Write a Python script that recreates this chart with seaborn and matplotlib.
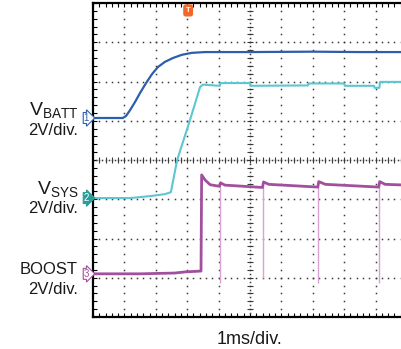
import numpy as np
import pandas as pd
import matplotlib
matplotlib.use("Agg")
import matplotlib.pyplot as plt
import seaborn as sns
from matplotlib.ticker import MultipleLocator

# ---- data (time in ms = screen divisions, level in screen divisions) ----
vbatt_t = [0.0, 0.95, 1.05, 1.18, 1.34, 1.50, 1.69, 1.88, 2.07, 2.29, 2.55, 2.83, 3.15,
           3.57, 5.0, 7.0, 8.5, 10.0]
vbatt_y = [5.07, 5.07, 5.12, 5.27, 5.48, 5.71, 5.96, 6.19, 6.37, 6.50, 6.60, 6.68, 6.73,
           6.75, 6.75, 6.76, 6.75, 6.75]

vsys_t = [0.0, 1.18, 1.82, 2.29, 2.48, 2.68, 3.09, 3.41, 3.50, 4.04, 4.06, 5.0, 5.02,
          6.85, 6.87, 8.0, 8.02, 8.95, 8.97, 9.12, 9.14, 10.0]
vsys_y = [3.03, 3.03, 3.08, 3.13, 3.18, 4.00, 5.02, 5.86, 5.92, 5.89, 5.96, 5.96, 5.89,
          5.90, 5.95, 5.95, 5.89, 5.89, 5.84, 5.84, 5.99, 5.99]

boost_t = [0.0, 1.5, 2.6, 2.95, 3.44, 3.46, 3.57, 3.73, 4.03, 4.06, 4.2, 5.40, 5.43,
           5.6, 7.16, 7.19, 7.4, 9.10, 9.13, 9.3, 10.0]
boost_y = [1.10, 1.10, 1.12, 1.15, 1.17, 3.62, 3.49, 3.37, 3.33, 3.42, 3.36, 3.30, 3.44,
           3.38, 3.31, 3.45, 3.38, 3.31, 3.45, 3.38, 3.36]

spike_t = [4.04, 5.41, 7.17, 9.11]
spike_top = [3.33, 3.30, 3.31, 3.31]
spike_bottom = [0.87, 0.99, 0.87, 0.87]

trigger_t = 3.03
ch_levels = {"1": 5.07, "2": 3.03, "3": 1.10}

BLUE = "#2c5eac"
CYAN = "#5ec6d0"
PURPLE = "#a24f9d"
PINK = "#d9a3d5"
TEAL = "#2a9e9a"

sns.set_theme(style="white")
plt.rcParams["font.family"] = ["Liberation Sans", "DejaVu Sans"]
plt.rcParams["mathtext.fontset"] = "custom"
plt.rcParams["mathtext.rm"] = "Liberation Sans"

W, H = 401, 349
fig = plt.figure(figsize=(W / 100, H / 100), dpi=100)
fig.patch.set_facecolor("white")
ax = fig.add_axes([93 / W, (H - 317) / H, 314 / W, 314 / H])
ax.set_xlim(0, 10)
ax.set_ylim(0, 8)
ax.set_facecolor("none")


def fx(px):
    return px / W


def fy(py):
    return 1 - py / H


# grid dots
dot_c = "#3a3a3a"
for k in range(1, 10):
    if k == 5:
        continue
    ys = np.arange(0, 8.001, 0.2)
    ax.plot([k] * len(ys), ys, ls="none", marker="s", ms=1.1, color=dot_c, mew=0, zorder=1)
for j in range(1, 8):
    if j == 4:
        continue
    xs = np.arange(0, 10.001, 0.2)
    ax.plot(xs, [j] * len(xs), ls="none", marker="s", ms=1.1, color=dot_c, mew=0, zorder=1)

# center crosshair
ys = np.arange(0, 8.001, 0.1)
ax.plot([5] * len(ys), ys, ls="none", marker="s", ms=1.1, color=dot_c, mew=0, zorder=1)
ys2 = np.arange(0, 8.001, 0.2)
ax.plot([5] * len(ys2), ys2, ls="none", marker="_", ms=4, color=dot_c, mew=0.8, zorder=1)
xs = np.arange(0, 10.001, 0.1)
ax.plot(xs, [4] * len(xs), ls="none", marker="s", ms=1.1, color=dot_c, mew=0, zorder=1)
xs2 = np.arange(0, 10.001, 0.2)
ax.plot(xs2, [4] * len(xs2), ls="none", marker="|", ms=4, color=dot_c, mew=0.8, zorder=1)

# traces
df_b = pd.DataFrame({"t": vbatt_t, "v": vbatt_y})
df_s = pd.DataFrame({"t": vsys_t, "v": vsys_y})
df_o = pd.DataFrame({"t": boost_t, "v": boost_y})

ax.vlines(spike_t, spike_bottom, spike_top, color=PINK, lw=1.0, zorder=3)
sns.lineplot(data=df_o, x="t", y="v", ax=ax, sort=False, estimator=None,
             color=PURPLE, lw=2.0, zorder=4)
sns.lineplot(data=df_s, x="t", y="v", ax=ax, sort=False, estimator=None,
             color=CYAN, lw=1.5, zorder=4)
sns.lineplot(data=df_b, x="t", y="v", ax=ax, sort=False, estimator=None,
             color=BLUE, lw=1.6, zorder=5)

# frame and ticks
for s in ax.spines.values():
    s.set_visible(True)
    s.set_color("black")
    s.set_linewidth(1.6)
ax.xaxis.set_major_locator(MultipleLocator(1))
ax.xaxis.set_minor_locator(MultipleLocator(0.2))
ax.yaxis.set_major_locator(MultipleLocator(1))
ax.yaxis.set_minor_locator(MultipleLocator(0.2))
ax.tick_params(which="both", direction="in", length=3, width=0.8, color="black",
               top=True, bottom=True, left=True, right=False,
               labelbottom=False, labelleft=False)
ax.set_xlabel("")
ax.set_ylabel("")

# trigger marker
ax.text(trigger_t, 7.9, "T", ha="center", va="top", fontsize=5.5, color="white",
        fontweight="bold", zorder=6,
        bbox=dict(boxstyle="round,pad=0.25", fc="#f0692a", ec="#f0692a"))
ax.plot([9.98], [4.94], marker="o", ms=6, color=TEAL, clip_on=False, zorder=6)

# channel markers
tr = ax.get_yaxis_transform()
ax.text(-0.021, ch_levels["1"], "1", transform=tr, ha="center", va="center", fontsize=7,
        color=BLUE, zorder=6, bbox=dict(boxstyle="rarrow,pad=0.05", fc="white", ec=BLUE, lw=0.8))
ax.text(-0.021, ch_levels["2"], "2", transform=tr, ha="center", va="center", fontsize=7,
        color="white", zorder=6, bbox=dict(boxstyle="rarrow,pad=0.05", fc=TEAL, ec=TEAL, lw=0.8))
ax.text(-0.021, ch_levels["3"], "3", transform=tr, ha="center", va="center", fontsize=7,
        color=PURPLE, zorder=6, bbox=dict(boxstyle="rarrow,pad=0.05", fc="white", ec=PURPLE, lw=0.8))

# labels
lab = dict(color="#1a1a1a")
fig.text(fx(79), fy(115), r"$\mathregular{V_{BATT}}$", ha="right", va="baseline",
         fontsize=14, **lab)
fig.text(fx(78), fy(135), "2V/div.", ha="right", va="baseline", fontsize=12, **lab)

fig.text(fx(79), fy(194), r"$\mathregular{V_{SYS}}$", ha="right", va="baseline",
         fontsize=14, **lab)
fig.text(fx(78), fy(213), "2V/div.", ha="right", va="baseline", fontsize=12, **lab)

fig.text(fx(78), fy(274), "BOOST", ha="right", va="baseline", fontsize=12, **lab)
fig.text(fx(78), fy(294), "2V/div.", ha="right", va="baseline", fontsize=12, **lab)

fig.text(fx(250), fy(344), "1ms/div.", ha="center", va="baseline", fontsize=13, **lab)

fig.savefig("out.png", dpi=100)
